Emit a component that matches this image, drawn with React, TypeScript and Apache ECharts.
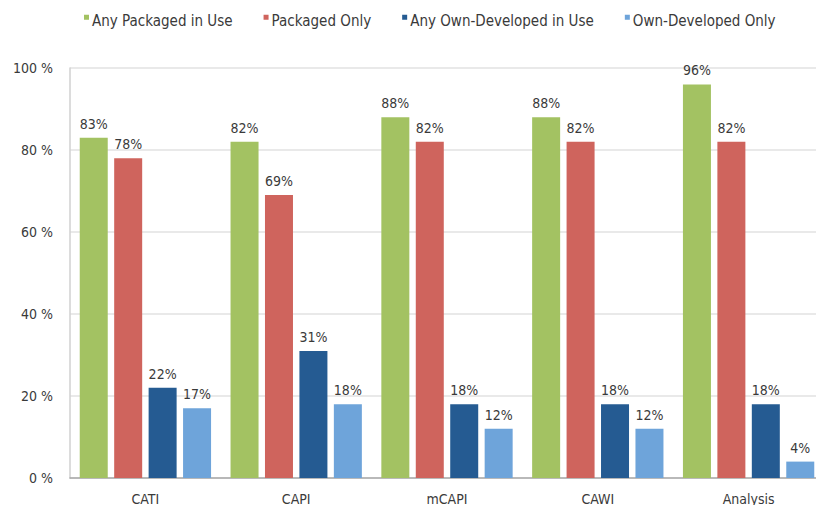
import React, { useEffect, useRef } from "react";
import * as echarts from "echarts";

const categories = ["CATI", "CAPI", "mCAPI", "CAWI", "Analysis"];
const seriesNames = [
  "Any Packaged in Use",
  "Packaged Only",
  "Any Own-Developed in Use",
  "Own-Developed Only",
];
const anyPackaged = [83, 82, 88, 88, 96];
const packagedOnly = [78, 69, 82, 82, 82];
const anyOwnDeveloped = [22, 31, 18, 18, 18];
const ownDevelopedOnly = [17, 18, 12, 12, 4];
const colors = ["#a3c262", "#cf645d", "#255b92", "#6ea4da"];

const FONT = "'DejaVu Sans Condensed', 'Liberation Sans Narrow', 'Liberation Sans', Arial, sans-serif";

export default function App() {
  const ref = useRef<HTMLDivElement>(null);

  useEffect(() => {
    if (!ref.current) return;
    const chart = echarts.init(ref.current, null, { renderer: "svg" });
    const values = [anyPackaged, packagedOnly, anyOwnDeveloped, ownDevelopedOnly];
    chart.setOption({
      animation: false,
      backgroundColor: "#ffffff",
      textStyle: { fontFamily: FONT },
      legend: {
        top: 8,
        left: 79,
        itemGap: 31,
        itemWidth: 5,
        itemHeight: 14,
        // small square marker sitting at the top of the text line
        icon: "path://M0,0h6v6h-6zM0,14h0.01v0.01h-0.01z",
        textStyle: { fontSize: 15, color: "#3a3a3a", fontFamily: FONT, padding: [0, 0, 0, -2] },
        data: seriesNames,
      },
      grid: { left: 70, right: -8, top: 68, bottom: 35, containLabel: false },
      xAxis: {
        type: "category",
        data: categories,
        axisLine: { show: true, lineStyle: { color: "#a8a8a8", width: 1.5 } },
        axisTick: { show: false },
        axisLabel: { color: "#3a3a3a", fontSize: 14, margin: 14, fontFamily: FONT },
      },
      yAxis: {
        type: "value",
        min: 0,
        max: 100,
        interval: 20,
        axisLine: { show: true, lineStyle: { color: "#d0d0d0", width: 1.5 } },
        axisTick: { show: false },
        splitLine: { lineStyle: { color: "#e2e2e2", width: 1.5 } },
        axisLabel: {
          color: "#3a3a3a",
          fontSize: 14,
          margin: 17,
          formatter: "{value} %",
          fontFamily: FONT,
        },
      },
      series: seriesNames.map((name, i) => ({
        name,
        type: "bar",
        data: values[i],
        barWidth: 28,
        barGap: "23%",
        itemStyle: { color: colors[i] },
        label: {
          show: true,
          position: "top",
          distance: 7,
          formatter: "{c}%",
          color: "#3a3a3a",
          fontSize: 14,
          fontFamily: FONT,
        },
      })),
    });
    return () => chart.dispose();
  }, []);

  return <div ref={ref} style={{ width: 824, height: 513, margin: -8 }} />;
}
